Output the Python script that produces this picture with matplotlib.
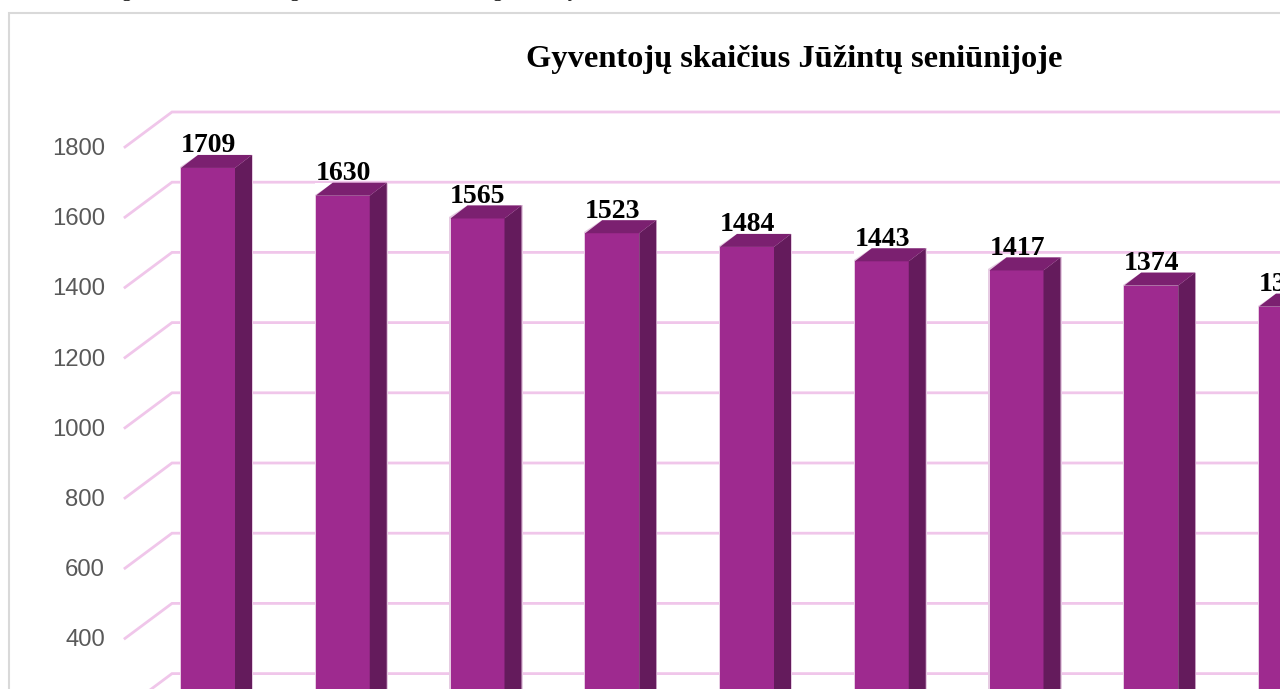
import matplotlib
matplotlib.use("Agg")
import matplotlib.pyplot as plt
from matplotlib.patches import Polygon, Rectangle

# values, last bar is cut off by the image edge
values = [1709, 1630, 1565, 1523, 1484, 1443, 1417, 1374, 1314]
ticks = [200, 400, 600, 800, 1000, 1200, 1400, 1600, 1800]
title = "Gyventojų skaičius Jūžintų seniūnijoje"
# line of text above the chart, only the tails of these letters are left in the crop
cut_letters = ["g", "g", "g", "y"]
cut_letters_px = [126, 294, 497, 573]

W, H = 1280, 689
purple = "#9e2a8f"
top_col = "#7b2070"
side_col = "#641b5c"
grid_col = "#f0c6ea"
glow_col = "#e6cbe2"

# pixels per unit on both axes
py = 0.351
px = 134.75
y_at_top = 1800 + 147 / py
y_at_bottom = y_at_top - H / py
x_left = -(208.0) / px
x_right = x_left + W / px

fig = plt.figure(figsize=(W / 100, H / 100), dpi=100)
ax = fig.add_axes([0, 0, 1, 1])
ax.set_xlim(x_left, x_right)
ax.set_ylim(y_at_bottom, y_at_top)
ax.axis("off")

bar_w = 54 / px
dx = 17 / px
dy = 13 / py
lift = 11 / py       # bars stand a bit behind the front edge of the floor
wall_dx = 47 / px
wall_dy = 35 / py
front_x = x_left + 125 / px
pad = 1.2 / px


def bar3d(i, v):
    x0 = i - bar_w / 2
    x1 = i + bar_w / 2
    y1 = v + lift
    y0 = y_at_bottom - 50
    # soft light edge round the bar
    ax.add_patch(Rectangle((x0 - pad, y0), bar_w + dx + 2 * pad, y1 + dy - y0, fc=glow_col, lw=0, zorder=2.5))
    ax.add_patch(Rectangle((x0, y0), bar_w, y1 - y0, fc=purple, lw=0, zorder=3))
    ax.add_patch(Polygon([(x1, y0), (x1 + dx, y0), (x1 + dx, y1 + dy), (x1, y1)],
                         fc=side_col, lw=0, zorder=3))
    ax.add_patch(Polygon([(x0, y1), (x0 + dx, y1 + dy), (x1 + dx, y1 + dy), (x1, y1)],
                         fc=top_col, lw=0, zorder=3))
    # hide the glow in the corner left of the top face
    ax.add_patch(Polygon([(x0 - pad, y1 + 1 / py), (x0 - pad, y1 + dy), (x0 + dx, y1 + dy)],
                         fc="white", lw=0, zorder=2.6))
    ax.text(i + 0.5 / px, y1 + dy - 3.5 / py, str(v), ha="center", va="bottom", fontsize=20,
            fontweight="bold", family="Liberation Serif", color="black", zorder=4)


for t in ticks:
    ax.plot([front_x, front_x + wall_dx, x_right], [t, t + wall_dy, t + wall_dy],
            color=grid_col, lw=2, solid_joinstyle="miter", zorder=1)
    ax.text(front_x - 20 / px, t - 2 / py, str(t), ha="right", va="center", fontsize=17.2,
            family="Liberation Sans", color="#595959", zorder=2)

for i, v in enumerate(values):
    bar3d(i, v)

ax.text(x_left + 794 / px, y_at_top - 59.5 / py, title, ha="center", va="center", fontsize=23.3,
        fontweight="bold", family="Liberation Serif", color="black")

for letter, xp in zip(cut_letters, cut_letters_px):
    ax.text(x_left + xp / px, y_at_top + 2.5 / py, letter, ha="center", va="baseline", fontsize=14,
            family="Liberation Serif", color="black", clip_on=False)

# chart frame, only left and top edge are in the crop
ax.plot([x_left + 8.5 / px, x_left + 8.5 / px, x_right],
        [y_at_bottom, y_at_top - 13.3 / py, y_at_top - 13.3 / py],
        color="#d9d9d9", lw=1.5, solid_joinstyle="miter", zorder=1)

fig.savefig("out.png", dpi=100)
